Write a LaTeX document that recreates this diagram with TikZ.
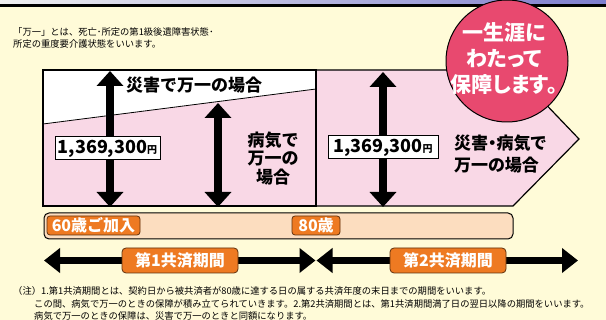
\documentclass[tikz,border=0pt]{standalone}
\usepackage{fontspec}
\usetikzlibrary{arrows.meta}
\newfontfamily\jp{Noto Sans CJK JP}
\newfontfamily\jpp[RawFeature=+palt]{Noto Sans CJK JP}
\definecolor{creamc}{HTML}{FFFBD8}
\definecolor{pinkc}{HTML}{F9D8E6}
\definecolor{peachc}{HTML}{FCDDBF}
\definecolor{orangec}{HTML}{EE7A22}
\definecolor{circc}{HTML}{E8496F}
\tikzset{
  note/.style={font=\jp\fontsize{9.3}{11.5}\selectfont, inner sep=0pt, text=black},
  bigtxt/.style={font=\jp\bfseries\fontsize{17}{18.5}\selectfont, inner sep=0pt},
  valbox/.style={draw=black, fill=white, line width=1pt, minimum height=23pt, inner sep=0pt},
  obox/.style={fill=orangec, draw=black!60!orangec, line width=0.8pt, rounded corners=3pt, text=white,
    font=\jp\bfseries\fontsize{16}{16}\selectfont, inner sep=0pt},
  bigarrow/.style={line width=7.5pt, {Triangle[length=15pt,width=26pt]}-{Triangle[length=15pt,width=26pt]}},
  perarrow/.style={line width=7pt, {Triangle[length=16pt,width=24pt]}-{Triangle[length=16pt,width=24pt]}},
  outline/.style={line width=1.2pt, draw=black}
}
\begin{document}
\begin{tikzpicture}[x=1pt,y=-1pt]
\useasboundingbox (0,0) rectangle (606,320);
\fill[creamc] (0,0) rectangle (606,320);
\shade[left color=gray!12, right color=blue!45!gray!70] (0,0) rectangle (606,5);
\fill[black] (0,4.5) rectangle (606,7.5);

% top note
\node[note, anchor=west] (n0a) at (13,32) {「万一」とは、死亡･所定の第1級後遺障害状態･};
\node[note, anchor=west] (n0b) at (13,43.5) {所定の重度要介護状態をいいます。};

% main chart areas
\fill[pinkc] (43,124) -- (316,89) -- (316,206) -- (43,206) -- cycle;
\fill[white] (43,70) -- (316,70) -- (316,89) -- (43,124) -- cycle;
\fill[pinkc] (316,70) -- (513,70) -- (579,139) -- (513,206) -- (316,206) -- cycle;
\draw[line width=0.8pt] (43,124) -- (316,89);
\draw[outline] (43,70) rectangle (316,206);
\draw[outline] (316,70) -- (513,70) -- (579,139) -- (513,206) -- (316,206);

% vertical arrows
\coordinate (a1t) at (110,71);  \coordinate (a1b) at (110,207);
\coordinate (a2t) at (218,103); \coordinate (a2b) at (218,207);
\coordinate (a3t) at (383,72);  \coordinate (a3b) at (383,207);
\draw[bigarrow] (a1t) -- (a1b);
\draw[bigarrow] (a2t) -- (a2b);
\draw[bigarrow] (a3t) -- (a3b);

% value boxes
\node[valbox, minimum width=105pt] (v1) at (107.5,148.5)
  {{\jp\bfseries\fontsize{18}{18}\selectfont 1,369,300}{\jp\bfseries\fontsize{10}{10}\selectfont 円}};
\node[valbox, minimum width=110pt] (v2) at (383,147.5)
  {{\jp\bfseries\fontsize{18}{18}\selectfont 1,369,300}{\jp\bfseries\fontsize{10}{10}\selectfont 円}};

% labels
\node[bigtxt, anchor=west] (t1) at (126,85) {災害で万一の場合};
\node[bigtxt, align=center] (t2) at (273,158.5) {病気で\\万一の\\場合};
\node[bigtxt, align=left, anchor=west, font=\jpp\bfseries\fontsize{17}{22}\selectfont] (t3) at (454,154) {災害・病気で\\万一の場合};

% age bar
\node[draw=black, line width=1pt, fill=peachc, rounded corners=5pt, minimum width=469pt, minimum height=26pt, inner sep=0pt] (bar) at (278.5,226) {};
\node[obox, minimum width=93pt, minimum height=19pt] (age60) at (93.5,225.5) {60歳ご加入};
\node[obox, minimum width=48pt, minimum height=19pt] (age80) at (316,225.5) {80歳};

% period arrows
\coordinate (p1s) at (44,260.5); \coordinate (p1e) at (315.5,260.5);
\coordinate (p2s) at (316.5,260.5); \coordinate (p2e) at (578,260.5);
\draw[perarrow] (p1s) -- (p1e);
\draw[perarrow] (p2s) -- (p2e);
\node[obox, minimum width=116pt, minimum height=25pt, rounded corners=4pt] (per1) at (180,260.5) {第1共済期間};
\node[obox, minimum width=116pt, minimum height=25pt, rounded corners=4pt] (per2) at (448,260.5) {第2共済期間};

% badge
\node[circle, fill=circc, draw=black, line width=1pt, minimum size=122pt, inner sep=0pt] (badge) at (507,61) {};
\node[align=center, text=white, inner sep=0pt, font=\jpp\bfseries\fontsize{21}{26}\selectfont] (badgetxt) at (504,59) {一生涯に\\わたって\\保障します。};

% notes
\node[note, anchor=west] (n1) at (13,291) {（注）1.第1共済期間とは、契約日から被共済者が80歳に達する日の属する共済年度の末日までの期間をいいます。};
\node[note, anchor=west] (n2) at (34,304) {この間、病気で万一のときの保障が積み立てられていきます。2.第2共済期間とは、第1共済期間満了日の翌日以降の期間をいいます。};
\node[note, anchor=west] (n3) at (34,316) {病気で万一のときの保障は、災害で万一のときと同額になります。};
\end{tikzpicture}
\end{document}
